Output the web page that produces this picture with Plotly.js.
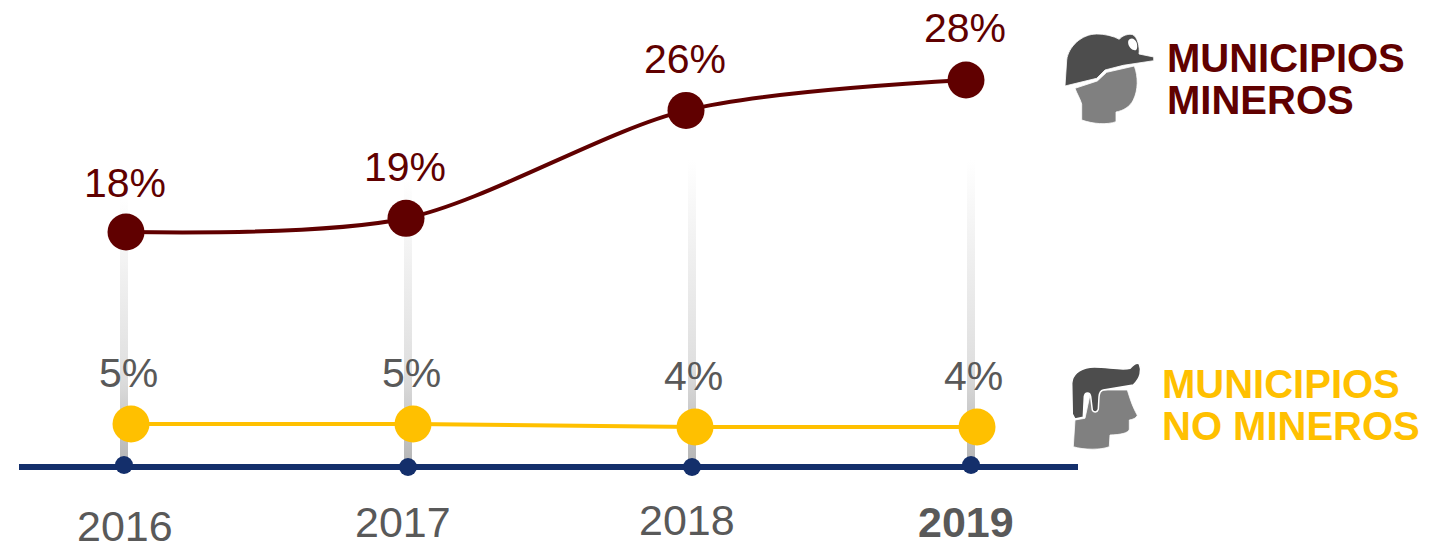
<!DOCTYPE html>
<html><head><meta charset="utf-8">
<script src="https://cdn.plot.ly/plotly-3.0.1.min.js"></script>
<style>html,body{margin:0;padding:0;background:#fff}#c{width:1436px;height:547px}</style>
</head><body><div id="c"></div>
<script>
// ---- data ----
const years = [2016, 2017, 2018, 2019];
const mineros = [18, 18.9, 26, 28];
const noMineros = [5, 5, 4, 4];
const yearLabels = ['2016', '2017', '2018', '<b>2019</b>'];
const minerosLabels = ['18%', '19%', '26%', '28%'];
const noMinerosLabels = ['5%', '5%', '4%', '4%'];
const stemHeights = [272, 287, 307, 307];

// ---- presentation ----
const W = 1436, H = 547;
const FONT = 'Liberation Sans, Arial, sans-serif';
const MAROON = '#600000', GOLD = '#FFC000', NAVY = '#142F6B', GREY = '#595959';

// three overlaid scales: each series sits on its own hidden axes, as in the source slide
function xRange(x0, spacing) { return [2016 - x0 / spacing, 2016 + (W - x0) / spacing]; }
function yRange(v0, y0, pxPerUnit) { return [v0 - (H - y0) / pxPerUnit, v0 + y0 / pxPerUnit]; }
const hidden = { visible: false, fixedrange: true, domain: [0, 1] };
const baseSpacing = 284;
const baseNudge = [0, 0, 0, -5];      // px
const baseYNudge = [2, 0, 0, 2];      // px

const baseX = years.map((y, i) => y + baseNudge[i] / baseSpacing);
const stemHalf = 4 / baseSpacing;

const stems = years.map((y, i) => ({
  type: 'scatter', xaxis: 'x', yaxis: 'y', mode: 'lines', hoverinfo: 'skip', showlegend: false,
  x: [baseX[i] - stemHalf, baseX[i] + stemHalf, baseX[i] + stemHalf, baseX[i] - stemHalf, baseX[i] - stemHalf],
  y: [0, 0, stemHeights[i], stemHeights[i], 0],
  fill: 'toself', line: { width: 0, color: 'rgba(0,0,0,0)' },
  fillgradient: {
    type: 'vertical',
    colorscale: [[0, '#b4b4b4'], [0.35, '#e0e0e0'], [0.7, '#f0f0f0'], [1, '#ffffff']],
    start: 0, stop: stemHeights[i]
  }
}));

const base = {
  type: 'scatter', xaxis: 'x', yaxis: 'y', mode: 'markers', hoverinfo: 'skip', showlegend: false,
  x: baseX, y: baseYNudge, marker: { size: 18, color: NAVY }
};
const serieNo = {
  type: 'scatter', xaxis: 'x2', yaxis: 'y2', mode: 'lines+markers', showlegend: false,
  x: years, y: noMineros, line: { color: GOLD, width: 4, shape: 'spline', smoothing: 0.4 },
  marker: { size: 37, color: GOLD }
};
const serieMin = {
  type: 'scatter', xaxis: 'x3', yaxis: 'y3', mode: 'lines+markers', showlegend: false,
  x: years, y: mineros, line: { color: MAROON, width: 4, shape: 'spline', smoothing: 0.85 },
  marker: { size: 37, color: MAROON }
};

function ann(text, xref, yref, x, y, xs, ys, color, size, extra) {
  return Object.assign({
    text, xref, yref, x, y, xshift: xs, yshift: ys, showarrow: false,
    xanchor: 'center', yanchor: 'middle', borderpad: 0,
    font: { family: FONT, size, color }
  }, extra || {});
}
const annotations = [];
const minShift = [[-1, 49], [-1, 51], [-1, 51], [-1, 52]];
const noShift = [[-3, 51], [-2, 51], [-2, 51], [-4, 51]];
const yearShift = [[1, -59], [-5, -55], [-5, -53], [-5, -55]];
years.forEach((y, i) => {
  annotations.push(ann(minerosLabels[i], 'x3', 'y3', y, mineros[i], minShift[i][0], minShift[i][1], MAROON, 41));
  annotations.push(ann(noMinerosLabels[i], 'x2', 'y2', y, noMineros[i], noShift[i][0], noShift[i][1], GREY, 41));
  annotations.push(ann(yearLabels[i], 'x', 'y', baseX[i], 0, yearShift[i][0], yearShift[i][1], GREY, 43));
});
[['MUNICIPIOS', 1166, 58, MAROON], ['MINEROS', 1166, 100, MAROON],
 ['MUNICIPIOS', 1161, 384, GOLD], ['NO MINEROS', 1161, 426, GOLD]].forEach(t => {
  annotations.push(ann('<b>' + t[0] + '</b>', 'paper', 'paper', t[1] / W, 1 - t[2] / H, 0, 0, t[3], 40, { xanchor: 'left' }));
});

// icons: page-pixel paths converted to paper coordinates
function icon(d) {
  return d.replace(/(-?[\d.]+) (-?[\d.]+)/g, (m, x, y) =>
    (+x / W).toFixed(5) + ' ' + (1 - +y / H).toFixed(5));
}
function z1(d) {
  return d.replace(/(-?[\d.]+) (-?[\d.]+)/g, (m, x, y) => (1040 + x / 3).toFixed(1) + ' ' + (10 + y / 3).toFixed(1));
}
function z2(d) {
  return d.replace(/(-?[\d.]+) (-?[\d.]+)/g, (m, x, y) => (1040 + x / 3).toFixed(1) + ' ' + (340 + y / 3).toFixed(1));
}
function iconShape(d, fill, lw) {
  return { type: 'path', xref: 'paper', yref: 'paper', path: icon(d), fillcolor: fill,
    line: { color: '#ffffff', width: lw === undefined ? 0.8 : lw }, layer: 'above' };
}
const shapes = [
  // baseline
  { type: 'line', xref: 'paper', yref: 'y', x0: 19 / W, x1: 1078 / W, y0: 0, y1: 0, line: { color: NAVY, width: 6 }, layer: 'below' },
  // miner head
  iconShape(z1('M 105 235 L 172 213 L 200 187 L 283 168 C 295 200 295 240 280 270 C 270 290 250 302 228 306 L 228 335 C 200 345 160 342 125 330 L 125 282 C 120 265 110 250 105 235 Z'), '#808080'),
  // helmet
  iconShape(z1('M 75 228 L 80 150 C 85 110 125 72 170 72 C 195 72 220 78 238 88 C 245 78 265 70 278 74 C 292 80 300 110 297 132 L 341 141 L 341 152 L 250 166 L 195 180 L 170 205 Z'), '#4D4D4D'),
  iconShape(z1('M 265 92 C 272 80 285 85 290 98 C 294 112 290 125 282 120 C 272 118 262 105 265 92 Z'), '#ffffff', 0),
  // non-miner head
  iconShape(z2('M 135 235 L 150 165 L 190 150 L 262 150 C 270 175 275 195 292 226 C 288 236 278 238 268 240 L 268 268 C 265 280 240 284 210 285 L 208 320 C 185 330 130 330 100 320 L 105 240 Z'), '#808080'),
  // hair
  iconShape(z2('M 97 222 L 95 130 C 97 105 115 88 150 82 C 190 78 240 92 270 85 C 278 75 290 65 298 72 C 306 90 302 115 280 135 L 190 150 C 180 152 178 160 177 170 L 175 208 C 172 218 160 218 157 210 L 152 170 C 150 155 135 155 133 170 L 130 232 L 105 237 Z'), '#4D4D4D', 1.5)
];

const layout = {
  width: W, height: H, margin: { l: 0, r: 0, t: 0, b: 0 },
  paper_bgcolor: '#fff', plot_bgcolor: '#fff', showlegend: false, hovermode: false,
  xaxis: Object.assign({ range: xRange(124, baseSpacing) }, hidden),
  yaxis: Object.assign({ range: yRange(0, 467, 1) }, hidden),
  xaxis2: Object.assign({ range: xRange(131, 282), overlaying: 'x' }, hidden),
  yaxis2: Object.assign({ range: yRange(5, 424, 3), overlaying: 'y' }, hidden),
  xaxis3: Object.assign({ range: xRange(126, 280), overlaying: 'x' }, hidden),
  yaxis3: Object.assign({ range: yRange(18, 232, 15.2), overlaying: 'y' }, hidden),
  annotations, shapes
};
Plotly.newPlot('c', stems.concat([base, serieNo, serieMin]), layout, { displayModeBar: false, staticPlot: true });
</script>
</body></html>
